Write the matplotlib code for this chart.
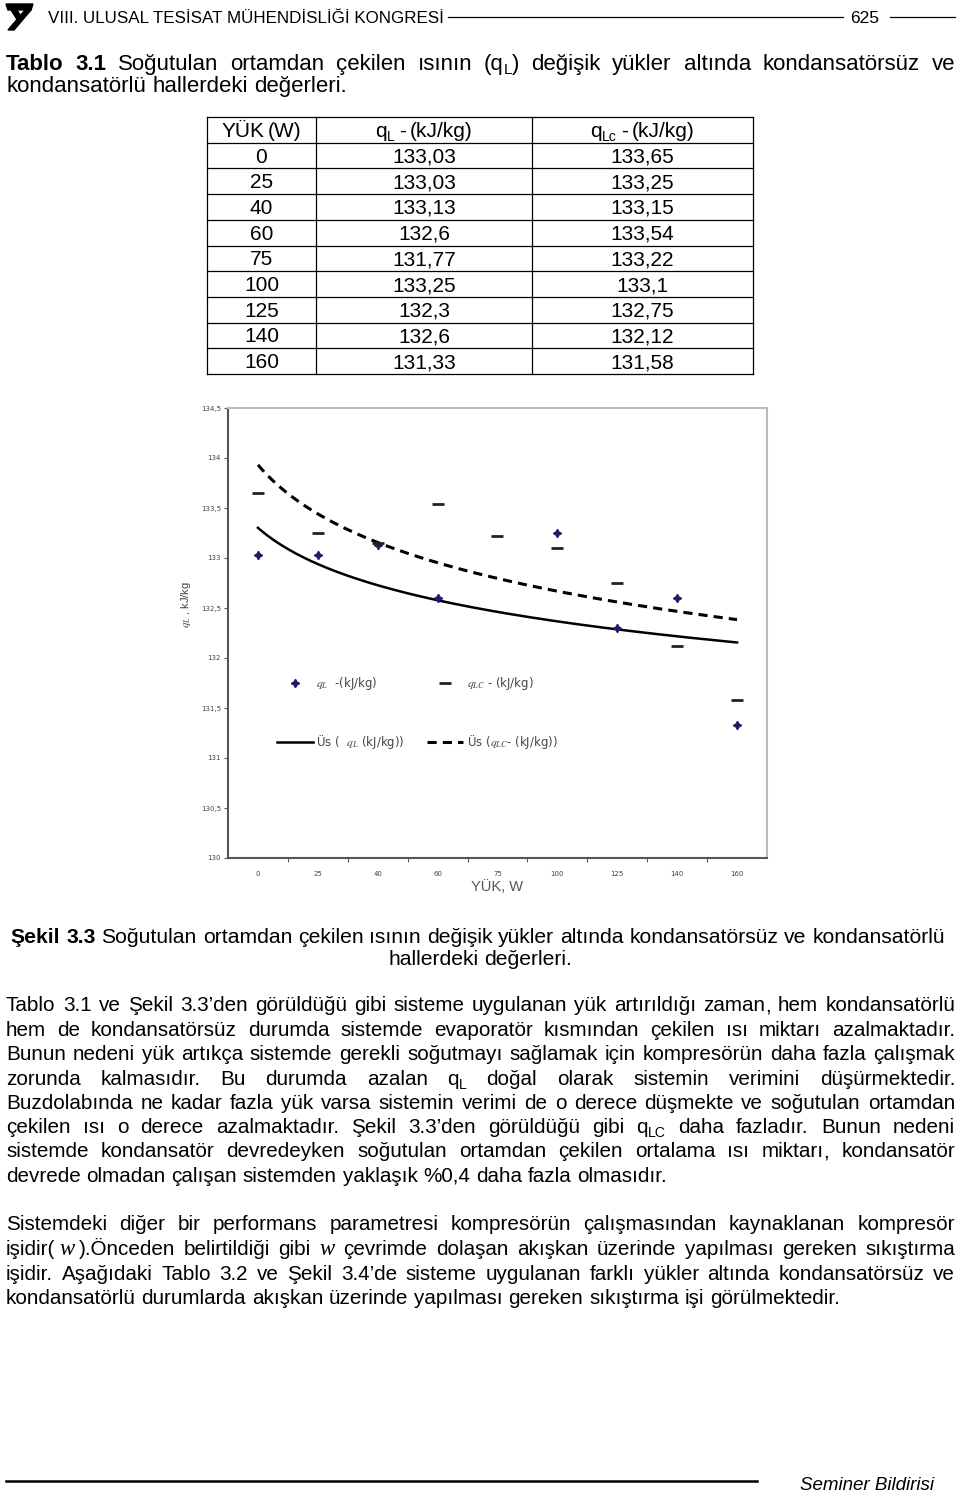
import re
import numpy as np
import matplotlib
import matplotlib.pyplot as plt
import matplotlib.font_manager as fm
from matplotlib.patches import Polygon
from matplotlib.lines import Line2D

# table / chart data
loads = [0, 25, 40, 60, 75, 100, 125, 140, 160]
q_l = [133.03, 133.03, 133.13, 132.6, 131.77, 133.25, 132.3, 132.6, 131.33]
q_lc = [133.65, 133.25, 133.15, 133.54, 133.22, 133.1, 132.75, 132.12, 131.58]
y_ticks = [130, 130.5, 131, 131.5, 132, 132.5, 133, 133.5, 134, 134.5]

W, H = 960, 1492
SANS = 'Liberation Sans'
SERIF = 'Liberation Serif'
FS = 14.9

names = {f.name for f in fm.fontManager.ttflist}
NARROW = 'Liberation Sans Narrow' if 'Liberation Sans Narrow' in names else SANS

plt.rcParams['mathtext.fontset'] = 'stix'
fig = plt.figure(figsize=(W / 100, H / 100), dpi=100)
renderer = fig.canvas.get_renderer()


def fx(x):
    return x / W


def fy(y):
    return 1 - y / H


def props(kind, fs):
    if kind == 'b':
        return dict(fontsize=fs, fontweight='bold', family=SANS)
    if kind == 's':
        return dict(fontsize=fs * 0.68, family=SANS)
    if kind == 'w':
        return dict(fontsize=fs * 1.1, family=SERIF, style='italic')
    return dict(fontsize=fs, family=SANS)


TOKEN = re.compile(r'\*(.+?)\*|_\{(.+?)\}|\[(.+?)\]|(~)|([^*_\[~]+)')


def parse(word):
    runs = []
    for b, s, w, g, n in TOKEN.findall(word):
        if b:
            runs.append((b, 'b'))
        elif s:
            runs.append((s, 's'))
        elif w:
            runs.append((w, 'w'))
        elif g:
            runs.append(('', 'g'))
        elif len(n) > 1 and n.endswith(','):
            runs.append((n[:-1], 'n'))
            runs.append((',', 'n'))
        else:
            runs.append((n, 'n'))
    return runs


def ext(s, kind, fs):
    t = fig.text(0, 0, s, **props(kind, fs))
    w = t.get_window_extent(renderer).width
    t.remove()
    return w


def advance(s, kind, fs):
    # pen advance of s, measured between two bars so glyph bearings don't count
    return ext('|' + s + '|', kind, fs) - ext('||', kind, fs)


def make_word(runs, fs):
    parts = []
    for txt, kind in runs:
        if kind == 'g':
            parts.append((None, advance(' ', 'n', fs) * 0.7, 0))
            continue
        t = fig.text(0, 0, txt, va='baseline', ha='left', color='black', **props(kind, fs))
        dy = 4 if kind == 's' else 0
        parts.append((t, advance(txt, kind, fs), dy))
    return parts


def place_word(parts, x, y):
    for t, w, dy in parts:
        if t is not None:
            t.set_position((fx(x), fy(y + dy)))
        x += w
    return x


def draw_line(y, line, x0=6, x1=955, mode='justify', fs=FS, xc=None):
    words = [make_word(parse(w), fs) for w in line.split(' ')]
    widths = [sum(p[1] for p in wd) for wd in words]
    sp = advance(' ', 'n', fs)
    natural = sum(widths) + sp * (len(words) - 1)
    if mode == 'justify' and len(words) > 1:
        gap = (x1 - x0 - sum(widths)) / (len(words) - 1)
        x = x0
    else:
        gap = sp
        if mode == 'center':
            x = xc - natural / 2
        else:
            x = x0
    for wd, w in zip(words, widths):
        place_word(wd, x, y)
        x += w + gap


# ---- header ----
logo = [
    [(6, 4), (33, 4), (31, 10), (8, 10)],
    [(11, 10), (17, 10), (22, 18), (18, 21)],
    [(25, 10), (31, 10), (14, 30), (8, 30)],
]
for pts in logo:
    fig.patches.append(Polygon([(fx(a), fy(b)) for a, b in pts], closed=True,
                               transform=fig.transFigure, facecolor='black', edgecolor='black'))
ht = fig.text(fx(48), fy(23), 'VIII. ULUSAL TESİSAT MÜHENDİSLİĞİ KONGRESİ',
              family=NARROW, fontsize=12.5, va='baseline', ha='left')
hw = ht.get_window_extent(renderer).width
ht.set_fontsize(12.5 * 397 / hw)
fig.add_artist(Line2D([fx(448), fx(843)], [fy(17), fy(17)], color='black', lw=0.9))
fig.text(fx(865), fy(23), '625', family=NARROW, fontsize=12.5, va='baseline', ha='center')
fig.add_artist(Line2D([fx(890), fx(955)], [fy(17), fy(17)], color='black', lw=0.9))

# ---- table caption ----
draw_line(70, '*Tablo* *3.1* Soğutulan ortamdan çekilen ısının (q_{L}) değişik yükler altında kondansatörsüz ve',
          fs=16)
draw_line(92, 'kondansatörlü hallerdeki değerleri.', mode='left', fs=16)

# ---- table ----
tx0, tx1, ty0, ty1 = 207, 753, 117, 374
col_x = [207, 316, 532, 753]
n_rows = len(loads) + 1
rh = (ty1 - ty0) / n_rows
for i in range(n_rows + 1):
    y = ty0 + i * rh
    fig.add_artist(Line2D([fx(tx0), fx(tx1)], [fy(y), fy(y)], color='black', lw=0.9))
for x in col_x:
    fig.add_artist(Line2D([fx(x), fx(x)], [fy(ty0), fy(ty1)], color='black', lw=0.9))
TFS = 15.0
centers = [(col_x[j] + col_x[j + 1]) / 2 for j in range(3)]
header = ['YÜK~(W)', 'q_{L}~-~(kJ/kg)', 'q_{Lc}~-~(kJ/kg)']
for j, h in enumerate(header):
    draw_line(ty0 + rh / 2 + 7, h, mode='center', fs=TFS, xc=centers[j])
for i in range(len(loads)):
    yb = ty0 + (i + 1.5) * rh + 7
    cells = [str(loads[i]), f'{q_l[i]:g}'.replace('.', ','), f'{q_lc[i]:g}'.replace('.', ',')]
    for j, c in enumerate(cells):
        fig.text(fx(centers[j]), fy(yb), c, family=SANS, fontsize=TFS, ha='center', va='baseline')

# ---- chart ----
ax = fig.add_axes([fx(228), fy(858), 539 / W, 450 / H])
xi = np.arange(len(loads))


def power_fit(y):
    # Excel "Üs" (power) trendline fitted to the plotted points
    n = np.arange(1, len(y) + 1)
    b, lna = np.polyfit(np.log(n), np.log(y), 1)
    xs = np.linspace(1, len(y), 200)
    return xs - 1, np.exp(lna) * xs ** b


h1, = ax.plot(xi, q_l, linestyle='none', marker=(4, 1, 0), markersize=6,
              color='#1c1c6b', zorder=3)
tx, ty = power_fit(q_l)
h2, = ax.plot(tx, ty, color='black', lw=1.8, zorder=2)
h3, = ax.plot(xi, q_lc, linestyle='none', marker='_', markersize=8, markeredgewidth=2,
              color='#222222', zorder=3)
tx, ty = power_fit(q_lc)
h4, = ax.plot(tx, ty, color='black', lw=2.2, dashes=(3, 2), zorder=2)

ax.set_xlim(-0.5, len(loads) - 0.5)
ax.set_ylim(130, 134.5)
ax.set_yticks(y_ticks)
ax.set_yticklabels([f'{v:g}'.replace('.', ',') for v in y_ticks])
ax.set_xticks(xi)
ax.set_xticklabels([str(v) for v in loads])
ax.set_xticks(np.arange(0.5, len(loads) - 1, 1), minor=True)
ax.tick_params(axis='x', which='major', length=0, labelsize=5, labelcolor='#444', pad=9)
ax.tick_params(axis='x', which='minor', length=3, width=0.8, color='#555')
ax.tick_params(axis='y', length=3, width=0.8, color='#555', labelsize=5, labelcolor='#444', pad=2)
for s in ['left', 'bottom']:
    ax.spines[s].set_color('#555555')
    ax.spines[s].set_linewidth(1.5)
for s in ['top', 'right']:
    ax.spines[s].set_color('#bbbbbb')
    ax.spines[s].set_linewidth(1.5)

ax.set_xlabel('YÜK, W', fontsize=10.5, color='#555', family=SANS)
ax.xaxis.set_label_coords(0.5, -(887 - 858) / 450)
ax.xaxis.label.set_va('center')
ax.set_ylabel(r'$q_L$ , kJ/kg', fontsize=8, color='#444', family=SANS)
ax.yaxis.set_label_coords(-42 / 539, (858 - 605) / 450)
ax.yaxis.label.set_va('center')

leg = ax.legend([h1, h2, h3, h4],
                [r'$q_L$  -(kJ/kg)', r'Üs (  $q_L$ (kJ/kg))',
                 r'$q_{LC}$ - (kJ/kg)', r'Üs ($q_{LC}$- (kJ/kg))'],
                ncol=2, loc='upper left', bbox_to_anchor=(0.084, 0.415), borderaxespad=0,
                fontsize=8.5, labelspacing=3.5, handlelength=3.05, columnspacing=1.9,
                handletextpad=0.3, frameon=True, facecolor='white', edgecolor='white',
                framealpha=1, borderpad=0.3)
for t in leg.get_texts():
    t.set_color('#444')

# ---- figure caption ----
draw_line(943, '*Şekil* *3.3* Soğutulan ortamdan çekilen ısının değişik yükler altında kondansatörsüz ve kondansatörlü',
          mode='center', xc=478, fs=15.2)
draw_line(965, 'hallerdeki değerleri.', mode='center', xc=480, fs=15.2)

# ---- paragraphs ----
para1 = [
    'Tablo 3.1 ve Şekil 3.3’den görüldüğü gibi sisteme uygulanan yük artırıldığı zaman, hem kondansatörlü',
    'hem de kondansatörsüz durumda sistemde evaporatör kısmından çekilen ısı miktarı azalmaktadır.',
    'Bunun nedeni yük artıkça sistemde gerekli soğutmayı sağlamak için kompresörün daha fazla çalışmak',
    'zorunda kalmasıdır. Bu durumda azalan q_{L} doğal olarak sistemin verimini düşürmektedir.',
    'Buzdolabında ne kadar fazla yük varsa sistemin verimi de o derece düşmekte ve soğutulan ortamdan',
    'çekilen ısı o derece azalmaktadır. Şekil 3.3’den görüldüğü gibi q_{LC} daha fazladır. Bunun nedeni',
    'sistemde kondansatör devredeyken soğutulan ortamdan çekilen ortalama ısı miktarı, kondansatör',
    'devrede olmadan çalışan sistemden yaklaşık %0,4 daha fazla olmasıdır.',
]
para1_y = [1011, 1036, 1060, 1085, 1109, 1133, 1157, 1182]
for i, (y, line) in enumerate(zip(para1_y, para1)):
    draw_line(y, line, mode='left' if i == len(para1) - 1 else 'justify')

para2 = [
    'Sistemdeki diğer bir performans parametresi kompresörün çalışmasından kaynaklanan kompresör',
    'işidir(~[w]~).Önceden belirtildiği gibi [w] çevrimde dolaşan akışkan üzerinde yapılması gereken sıkıştırma',
    'işidir. Aşağıdaki Tablo 3.2 ve Şekil 3.4’de sisteme uygulanan farklı yükler altında kondansatörsüz ve',
    'kondansatörlü durumlarda akışkan üzerinde yapılması gereken sıkıştırma işi görülmektedir.',
]
para2_y = [1230, 1255, 1280, 1304]
for i, (y, line) in enumerate(zip(para2_y, para2)):
    draw_line(y, line, mode='left' if i == len(para2) - 1 else 'justify')

# ---- footer ----
fig.add_artist(Line2D([fx(6), fx(757)], [fy(1481), fy(1481)], color='black', lw=1.8))
ft = fig.text(fx(800), fy(1490), 'Seminer Bildirisi', family=SANS, style='italic',
              fontsize=12, va='baseline', ha='left')
fw = ft.get_window_extent(renderer).width
ft.set_fontsize(12 * 135 / fw)

fig.savefig('out.png', dpi=100)
